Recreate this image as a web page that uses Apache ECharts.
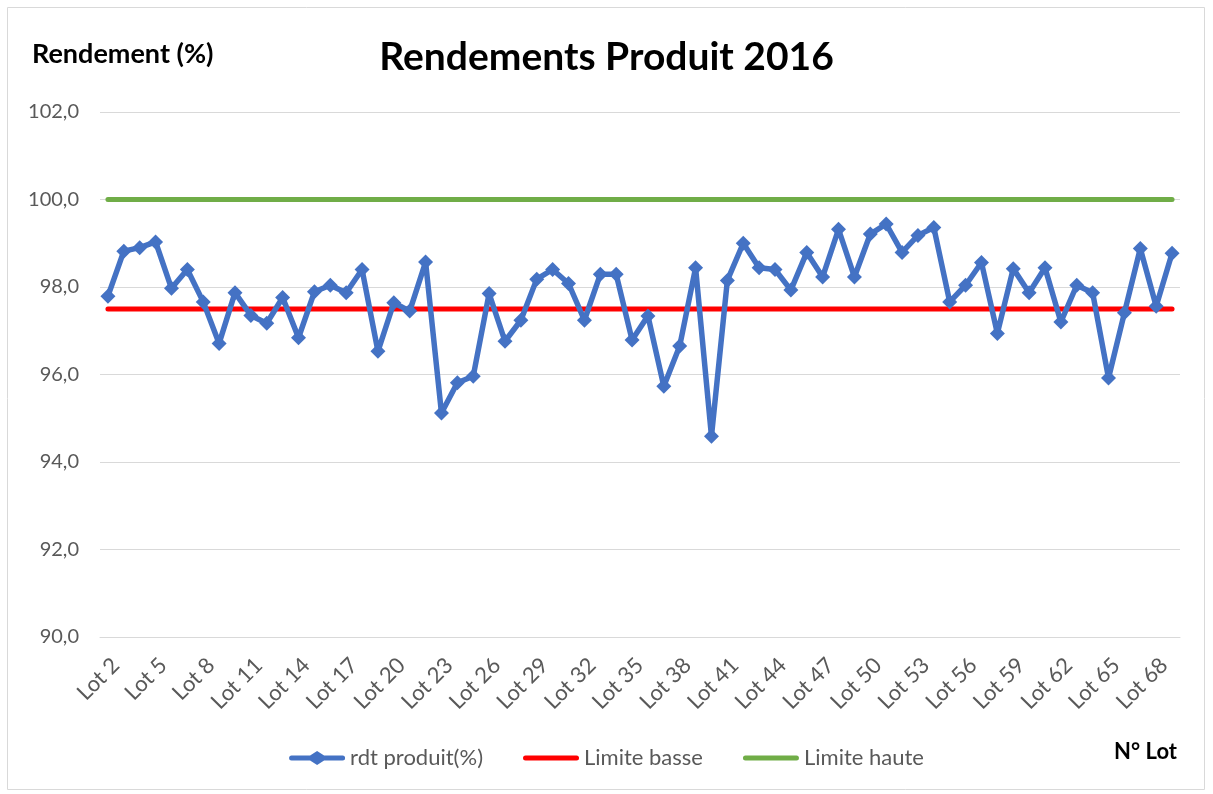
<!DOCTYPE html>
<html><head><meta charset="utf-8">
<script src="https://cdn.jsdelivr.net/npm/echarts@6/dist/echarts.min.js"></script>
<style>html,body{margin:0;padding:0;background:#fff}#c{width:1213px;height:794px}</style>
</head><body><div id="c"></div>
<script>
const lots = [];
for (let i = 2; i <= 69; i++) lots.push('Lot ' + i);
const rdt = [97.79,98.82,98.90,99.03,97.97,98.40,97.66,96.71,97.87,97.35,97.17,97.76,96.84,97.89,98.04,97.87,98.40,
96.53,97.64,97.45,98.57,95.12,95.81,95.96,97.85,96.76,97.24,98.18,98.40,98.08,97.24,98.29,98.29,96.79,
97.34,95.73,96.65,98.44,94.59,98.15,99.00,98.44,98.40,97.93,98.79,98.23,99.32,98.23,99.21,99.44,98.79,
99.18,99.36,97.66,98.04,98.56,96.94,98.42,97.87,98.44,97.20,98.04,97.87,95.92,97.41,98.88,97.56,98.77];
const limiteBasse = 97.5;
const limiteHaute = 100.0;
const yTicks = {min: 90, max: 102, interval: 2};

const FONT = 'Lato';
const lineIcon = 'path://M2.5,4.5 H53.5 A2.5,2.5 0 0 1 53.5,9.5 H2.5 A2.5,2.5 0 0 1 2.5,4.5 Z';
const markIcon = 'path://M2.5,4.5 H21 L28,0 L35,4.5 H53.5 A2.5,2.5 0 0 1 53.5,9.5 H35 L28,14 L21,9.5 H2.5 A2.5,2.5 0 0 1 2.5,4.5 Z';
const chart = echarts.init(document.getElementById('c'));
chart.setOption({
  animation: false,
  textStyle: {fontFamily: FONT},
  title: [
    {text: 'Rendements Produit 2016', left: 'center', top: 33,
     textStyle: {fontFamily: FONT, fontSize: 39, fontWeight: 'bold', color: '#000'}},
    {text: 'Rendement (%)', left: 27, top: 36,
     textStyle: {fontFamily: FONT, fontSize: 27, fontWeight: 'bold', color: '#000'}},
    {text: 'N° Lot', right: 31, top: 736,
     textStyle: {fontFamily: FONT, fontSize: 22, fontWeight: 'bold', color: '#000'}}
  ],
  graphic: [{type: 'rect', shape: {x: 7.5, y: 7.5, width: 1197, height: 782},
    style: {fill: 'none', stroke: '#d9d9d9', lineWidth: 1}, silent: true}],
  grid: {left: 100, right: 33, top: 112, bottom: 157},
  legend: {
    bottom: 20, left: 'center', itemWidth: 56, itemHeight: 14, itemGap: 40,
    textStyle: {fontFamily: FONT, fontSize: 22, color: '#595959'},
    data: [
      {name: 'rdt produit(%)', icon: markIcon},
      {name: 'Limite basse', icon: lineIcon},
      {name: 'Limite haute', icon: lineIcon}
    ]
  },
  xAxis: {
    type: 'category', data: lots, boundaryGap: true,
    axisLine: {lineStyle: {color: '#d9d9d9', width: 1}},
    axisTick: {show: false},
    axisLabel: {interval: 2, rotate: 45, fontFamily: FONT, fontSize: 22, color: '#595959',
      margin: 17, verticalAlign: 'top'}
  },
  yAxis: {
    type: 'value', min: yTicks.min, max: yTicks.max, interval: yTicks.interval,
    axisLine: {show: false}, axisTick: {show: false},
    splitLine: {lineStyle: {color: '#d9d9d9', width: 1}},
    axisLabel: {fontFamily: FONT, fontSize: 20, color: '#595959', margin: 21,
      formatter: v => v.toFixed(1).replace('.', ',')}
  },
  series: [
    {name: 'Limite basse', type: 'line', data: lots.map(() => limiteBasse), symbol: 'none',
     lineStyle: {color: '#FF0000', width: 5, cap: 'round'}, itemStyle: {color: '#FF0000'}, z: 2},
    {name: 'Limite haute', type: 'line', data: lots.map(() => limiteHaute), symbol: 'none',
     lineStyle: {color: '#70AD47', width: 5, cap: 'round'}, itemStyle: {color: '#70AD47'}, z: 2},
    {name: 'rdt produit(%)', type: 'line', data: rdt, symbol: 'diamond', symbolSize: 15,
     showAllSymbol: true,
     lineStyle: {color: '#4472C4', width: 5.5}, itemStyle: {color: '#4472C4'}, z: 3}
  ]
});
</script></body></html>
